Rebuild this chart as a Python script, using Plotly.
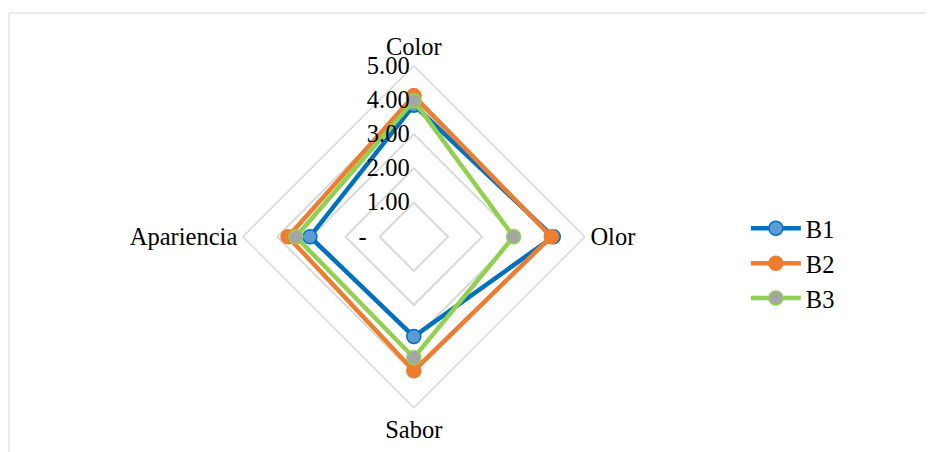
import plotly.graph_objects as go

categories = ["Color", "Olor", "Sabor", "Apariencia"]
b1 = [3.85, 4.08, 2.92, 3.04]
b2 = [4.12, 4.02, 3.92, 3.68]
b3 = [3.98, 2.92, 3.54, 3.45]
tick_vals = [0, 1, 2, 3, 4, 5]
tick_text = ["-\u00a0\u00a0\u00a0\u00a0\u00a0\u00a0\u00a0", "1.00", "2.00", "3.00", "4.00", "5.00"]

FONT = "Liberation Serif, Times New Roman, serif"
FS = 24.5

series = [
    ("B1", b1, "#0070C0", "#5B9BD5", "#0070C0"),
    ("B2", b2, "#ED7D31", "#ED7D31", "#ED7D31"),
    ("B3", b3, "#92D050", "#A5A5A5", "#92D050"),
]

fig = go.Figure()
for name, vals, lc, mf, ml in series:
    fig.add_trace(go.Scatterpolar(
        r=vals + [vals[0]],
        theta=categories + [categories[0]],
        mode="lines+markers",
        name=name,
        line=dict(color=lc, width=4.5),
        marker=dict(size=14, color=mf, line=dict(color=ml, width=1.5)),
    ))

fig.update_layout(
    width=934, height=452,
    margin=dict(l=0, r=0, t=0, b=0),
    paper_bgcolor="white",
    font=dict(family=FONT, size=FS, color="black"),
    showlegend=True,
    legend=dict(x=0.79, y=0.435, xanchor="left", yanchor="middle",
                font=dict(family=FONT, size=FS), tracegroupgap=0, itemwidth=50),
    polar=dict(
        domain=dict(x=[0.2515, 0.6175], y=[0.1155, 0.8725]),
        bgcolor="white",
        gridshape="linear",
        radialaxis=dict(
            range=[0, 5], tickvals=tick_vals, ticktext=tick_text,
            angle=90, tickangle=90, side="counterclockwise",
            showline=False, ticks="", gridcolor="#D9D9D9", gridwidth=1.5,
            tickfont=dict(family=FONT, size=FS),
        ),
        angularaxis=dict(
            direction="clockwise", rotation=90,
            showgrid=False, showline=True, linecolor="#D9D9D9", linewidth=1.5,
            ticks="", tickfont=dict(family=FONT, size=FS),
        ),
    ),
    shapes=[dict(type="rect", xref="paper", yref="paper",
                 x0=0.0012, x1=1.02, y0=-0.05, y1=0.989,
                 line=dict(color="#D9D9D9", width=1))],
)

fig.write_html("out.html")
